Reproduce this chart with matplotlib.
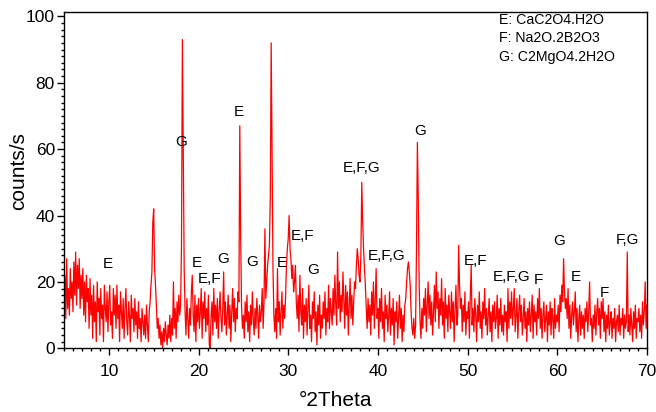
import numpy as np
import matplotlib
matplotlib.use("Agg")
import matplotlib.pyplot as plt
from matplotlib.ticker import MultipleLocator

plt.rcParams['font.family'] = ['Liberation Sans', 'DejaVu Sans']

# 2-theta scan: start, step (degrees)
theta_start = 5.0
theta_step = 0.1

# intensity (counts/s), one row per degree (x.0 ... x.9)
counts = [
    14, 22, 9, 27, 12, 18, 10, 24, 15, 20,      # 5
    11, 26, 16, 29, 13, 25, 18, 27, 12, 22,     # 6
    15, 24, 10, 20, 8, 22, 14, 18, 6, 21,       # 7
    10, 16, 3, 19, 8, 14, 2, 20, 11, 15,        # 8
    4, 18, 9, 13, 2, 19, 12, 8, 17, 5,          # 9
    14, 19, 7, 11, 3, 18, 10, 16, 6, 19,        # 10
    9, 13, 2, 17, 11, 6, 15, 3, 12, 18,         # 11
    8, 4, 14, 10, 2, 16, 9, 12, 5, 15,          # 12
    7, 11, 3, 14, 6, 9, 2, 12, 8, 4,            # 13
    10, 3, 13, 7, 2, 11, 14, 19, 23, 38,        # 14
    42, 24, 19, 13, 6, 9, 3, 7, 1, 5,           # 15
    0, 6, 2, 8, 4, 1, 7, 3, 10, 2,              # 16
    9, 4, 20, 6, 12, 3, 14, 8, 16, 10,          # 17
    13, 31, 93, 57, 24, 11, 4, 15, 9, 3,        # 18
    12, 7, 17, 22, 10, 5, 16, 2, 13, 8,         # 19
    15, 6, 11, 18, 3, 14, 9, 17, 5, 12,         # 20
    7, 16, 1, 0, 10, 14, 4, 18, 8, 13,          # 21
    6, 15, 3, 11, 17, 9, 5, 12, 23, 7,          # 22
    14, 4, 10, 16, 6, 13, 2, 11, 18, 8,         # 23
    15, 5, 12, 9, 17, 14, 67, 33, 12, 6,        # 24
    10, 3, 14, 8, 16, 5, 11, 2, 13, 7,          # 25
    17, 9, 4, 12, 6, 15, 10, 3, 13, 8,          # 26
    11, 18, 6, 14, 36, 15, 20, 25, 28, 31,      # 27
    45, 92, 58, 24, 10, 5, 12, 3, 24, 8,        # 28
    14, 4, 11, 17, 6, 13, 9, 15, 25, 30,        # 29
    33, 40, 30, 27, 21, 25, 17, 20, 25, 14,     # 30
    9, 16, 5, 22, 11, 7, 18, 3, 13, 8,          # 31
    15, 4, 12, 19, 6, 10, 2, 14, 9, 17,         # 32
    5, 11, 1, 13, 7, 16, 3, 10, 6, 14,          # 33
    9, 17, 4, 12, 8, 19, 6, 15, 11, 7,          # 34
    18, 10, 22, 13, 7, 29, 12, 20, 8, 16,       # 35
    11, 23, 14, 6, 19, 10, 17, 4, 13, 21,       # 36
    9, 16, 7, 14, 20, 18, 25, 30, 27, 22,       # 37
    20, 28, 50, 38, 30, 24, 19, 12, 6, 15,      # 38
    8, 13, 4, 17, 10, 20, 6, 14, 24, 9,         # 39
    12, 3, 15, 8, 18, 6, 11, 2, 16, 9,          # 40
    13, 5, 10, 17, 4, 12, 7, 15, 1, 11,         # 41
    8, 14, 3, 9, 16, 6, 12, 2, 10, 5,           # 42
    13, 15, 20, 24, 26, 23, 19, 11, 6, 4,       # 43
    9, 3, 7, 30, 62, 45, 19, 8, 3, 12,          # 44
    6, 15, 10, 18, 5, 13, 20, 9, 16, 7,         # 45
    14, 4, 11, 19, 8, 23, 12, 17, 6, 15,        # 46
    10, 21, 7, 14, 3, 18, 9, 13, 5, 16,         # 47
    11, 6, 17, 8, 14, 2, 12, 19, 7, 10,         # 48
    31, 19, 12, 15, 5, 13, 8, 17, 4, 11,        # 49
    9, 14, 3, 16, 25, 7, 12, 5, 15, 10,         # 50
    2, 13, 8, 17, 6, 11, 3, 14, 9, 18,          # 51
    7, 12, 4, 10, 15, 5, 11, 2, 13, 8,          # 52
    14, 6, 9, 16, 3, 12, 7, 15, 5, 10,          # 53
    4, 13, 8, 11, 2, 18, 6, 14, 9, 17,          # 54
    7, 12, 18, 5, 10, 15, 3, 11, 16, 8,         # 55
    13, 4, 9, 15, 6, 11, 2, 12, 7, 14,          # 56
    5, 10, 16, 3, 13, 8, 11, 4, 15, 9,          # 57
    18, 6, 12, 3, 10, 14, 5, 9, 13, 2,          # 58
    11, 7, 14, 4, 12, 9, 3, 15, 6, 10,          # 59
    8, 13, 5, 16, 11, 19, 14, 27, 17, 12,       # 60
    15, 9, 18, 6, 13, 3, 10, 14, 7, 11,         # 61
    17, 5, 12, 2, 9, 13, 4, 11, 6, 10,          # 62
    3, 12, 8, 14, 5, 11, 20, 7, 9, 2,           # 63
    10, 6, 13, 4, 11, 15, 7, 12, 3, 14,         # 64
    9, 15, 5, 11, 2, 10, 6, 13, 4, 8,           # 65
    11, 3, 9, 6, 12, 2, 8, 10, 5, 13,           # 66
    4, 9, 7, 12, 3, 10, 6, 8, 29, 5,            # 67
    10, 4, 12, 7, 2, 11, 6, 13, 3, 9,           # 68
    8, 12, 5, 10, 3, 14, 7, 11, 20, 6,          # 69
    13,                                         # 70
]

# phase labels on peaks
peak_labels = ["E", "G", "E", "E", "E,F", "G", "G", "E", "E,F", "G",
               "E,F,G", "E,F,G", "G", "E,F", "E,F,G", "F", "G", "E", "F", "F,G"]
peak_label_x = [9.85, 18.1, 24.45, 19.8, 21.2, 22.7, 26.0, 29.25, 31.6, 32.8,
                38.2, 41.0, 44.75, 50.9, 54.9, 57.9, 60.2, 62.1, 65.2, 67.8]
peak_label_y = [25.4, 62.1, 71.2, 25.7, 20.8, 26.9, 25.9, 25.6, 33.8, 23.6,
                54.3, 27.8, 65.4, 26.3, 21.5, 20.6, 32.3, 21.5, 16.7, 32.6]

phase_key = ["E: CaC2O4.H2O", "F: Na2O.2B2O3", "G: C2MgO4.2H2O"]

two_theta = theta_start + theta_step * np.arange(len(counts))

W, H = 656, 412
fig = plt.figure(figsize=(W / 100, H / 100), dpi=100)
ax = fig.add_axes([64 / W, 1 - 348.3 / H, 583 / W, 336.3 / H])
ax.plot(two_theta, counts, color='#ff0000', lw=0.9)

ax.set_xlim(5, 70)
ax.set_ylim(0, 101.3)
ax.xaxis.set_major_locator(MultipleLocator(10))
ax.xaxis.set_minor_locator(MultipleLocator(1))
ax.yaxis.set_major_locator(MultipleLocator(20))
ax.yaxis.set_minor_locator(MultipleLocator(2))
ax.tick_params(which='major', direction='out', length=5, width=1, labelsize=12.5)
ax.tick_params(which='minor', direction='out', length=2.5, width=1)
ax.tick_params(axis='x', which='major', pad=6)
ax.tick_params(axis='y', which='major', pad=1.5)
for sp in ax.spines.values():
    sp.set_linewidth(1)

ax.set_xlabel("°2Theta", fontsize=15)
ax.set_ylabel("counts/s", fontsize=15)
ax.xaxis.set_label_coords(0.466, -0.128)
ax.yaxis.set_label_coords(-0.062, 0.527)

for t, x, y in zip(peak_labels, peak_label_x, peak_label_y):
    ax.text(x, y, t, ha='center', va='center', fontsize=11)

for i, line in enumerate(phase_key):
    fig.text(499 / W, 1 - (20 + i * 18.5) / H, line,
             ha='left', va='center', fontsize=10.2)

fig.savefig("out.png", dpi=100)
